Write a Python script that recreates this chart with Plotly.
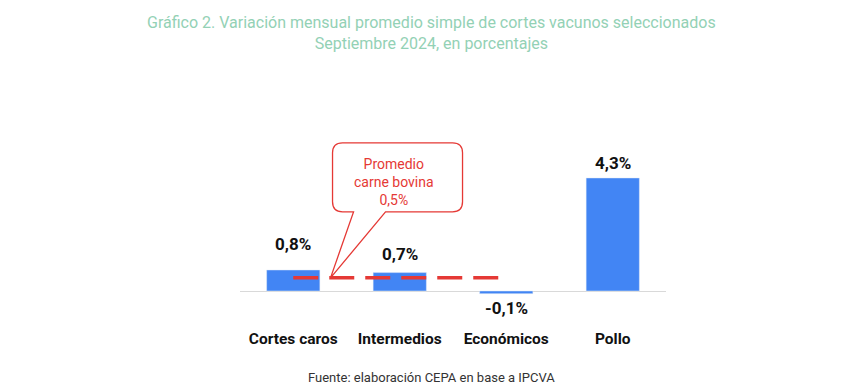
import plotly.graph_objects as go

categories = ["Cortes caros", "Intermedios", "Económicos", "Pollo"]
values = [0.8, 0.7, -0.1, 4.3]
value_labels = ["0,8%", "0,7%", "-0,1%", "4,3%"]
promedio_bovina = 0.5
promedio_label = "Promedio<br>carne bovina<br>0,5%"

title_lines = ["Gráfico 2. Variación mensual promedio simple de cortes vacunos seleccionados",
               "Septiembre 2024, en porcentajes"]
source_text = "Fuente: elaboración CEPA en base a IPCVA"

# styling
BAR_COLOR = "#4285F4"
RED = "#E53935"
TITLE_COLOR = "#93D1B5"
label_shift = [26, 19, -14, 15]  # pixel offsets of value labels
line_x_end = 1.93
callout_x = 0.35
page_center_shift = -22

xs = list(range(len(categories)))

fig = go.Figure()
fig.add_trace(go.Bar(x=xs, y=values, marker_color=BAR_COLOR, width=0.5,
                     hoverinfo="skip", showlegend=False))
fig.add_trace(go.Scatter(x=[0, line_x_end], y=[promedio_bovina, promedio_bovina],
                         mode="lines", line=dict(color=RED, width=3.5, dash="25px,11px"),
                         hoverinfo="skip", showlegend=False))

annotations = []
for x, v, t, s in zip(xs, values, value_labels, label_shift):
    annotations.append(dict(x=x, y=v, text="<b>%s</b>" % t, showarrow=False,
                            yanchor="middle", yshift=s,
                            font=dict(family="Roboto", size=17, color="#111111")))

# callout text
annotations.append(dict(x=callout_x, y=promedio_bovina, text=promedio_label, showarrow=False,
                        xshift=63, yshift=96, xanchor="center", yanchor="middle",
                        font=dict(family="Roboto", size=14, color=RED)))

annotations.append(dict(x=0.5, xref="paper", y=1, yref="paper", yanchor="bottom",
                        xshift=page_center_shift, yshift=73,
                        text="<br>".join(title_lines), showarrow=False,
                        font=dict(family="Roboto", size=16, color=TITLE_COLOR)))
annotations.append(dict(x=0.5, xref="paper", y=0, yref="paper", yanchor="middle",
                        xshift=page_center_shift, yshift=-77,
                        text=source_text, showarrow=False,
                        font=dict(family="Roboto", size=13, color="#333333")))

callout_path = ("M 0,0 L 23,66 L 12,66 Q 2,66 2,76 L 2,125 Q 2,135 12,135 "
                "L 122,135 Q 132,135 132,125 L 132,76 Q 132,66 122,66 L 55,66 Z")

fig.update_layout(
    width=854, height=381,
    margin=dict(l=232, r=196, t=120, b=89),
    paper_bgcolor="white", plot_bgcolor="white",
    bargap=0.5,
    xaxis=dict(range=[-0.5, 3.5], tickmode="array", tickvals=xs,
               ticktext=["<b>%s</b>" % c for c in categories],
               tickfont=dict(family="Roboto", size=15.5, color="#111111"),
               showgrid=False, zeroline=False, showline=False, ticks="",
               ticklabelstandoff=27),
    yaxis=dict(range=[-0.342, 6.2], showgrid=False, showticklabels=False,
               zeroline=True, zerolinecolor="#D9D9D9", zerolinewidth=1, ticks=""),
    annotations=annotations,
    shapes=[dict(type="path", xref="x", yref="y", xsizemode="pixel", ysizemode="pixel",
                 xanchor=callout_x, yanchor=promedio_bovina, path=callout_path,
                 line=dict(color=RED, width=1.3), fillcolor="white", layer="above")],
)

fig.write_html("out.html")
